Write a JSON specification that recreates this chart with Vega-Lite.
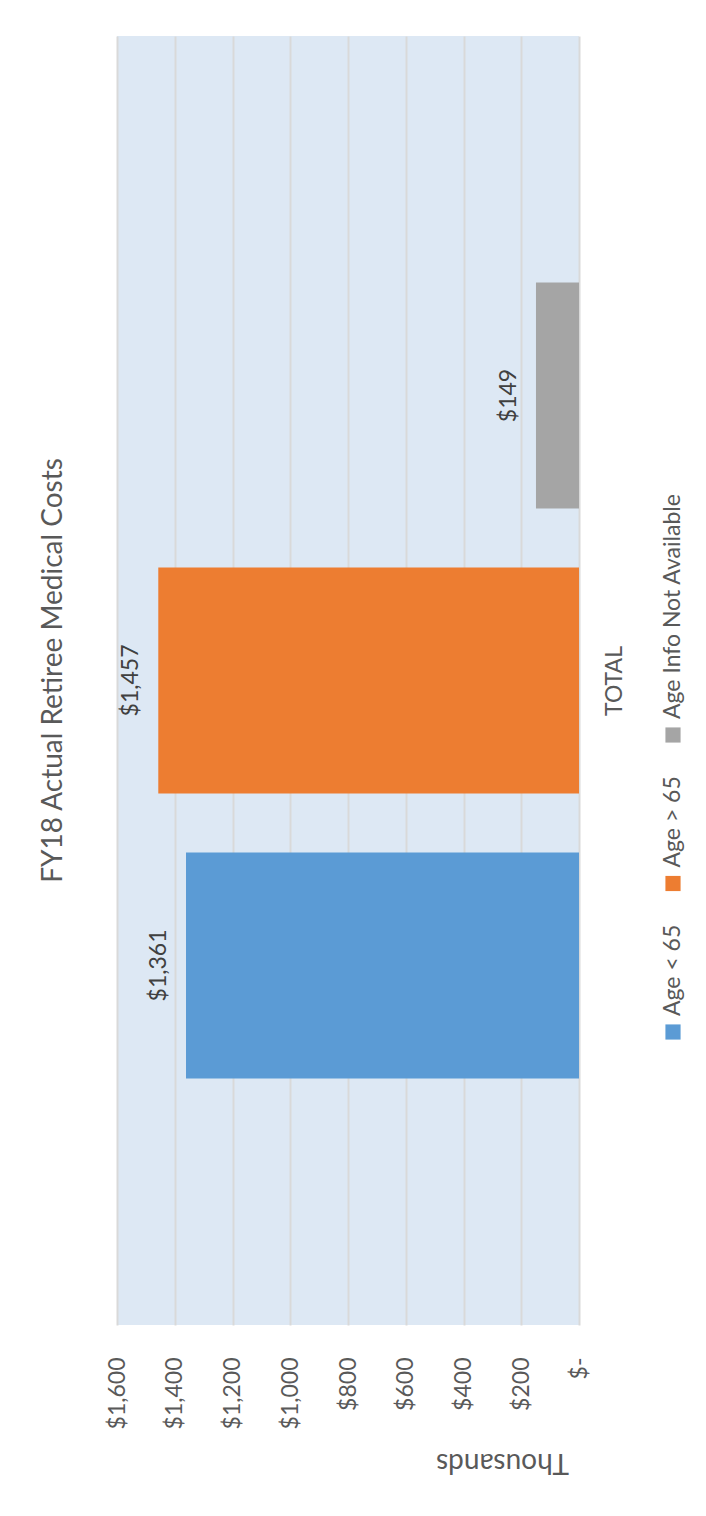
{
  "$schema": "https://vega.github.io/schema/vega-lite/v6.json",
  "background": "white",
  "padding": {"left": 39, "top": 36, "right": 0, "bottom": 50},
  "datasets": {
    "costs": [
      {"group": "TOTAL", "series": "Age < 65", "value": 1361},
      {"group": "TOTAL", "series": "Age > 65", "value": 1457},
      {"group": "TOTAL", "series": "Age Info Not Available", "value": 149}
    ]
  },
  "config": {
    "font": "Lato",
    "view": {"stroke": null},
    "text": {"font": "Lato", "color": "#595959"}
  },
  "spacing": 32,
  "hconcat": [
    {
      "width": 462,
      "height": 1289,
      "view": {"fill": "#dde8f4", "stroke": null},
      "title": {
        "text": "FY18 Actual Retiree Medical Costs",
        "orient": "left",
        "anchor": "middle",
        "frame": "group",
        "angle": 270,
        "baseline": "bottom",
        "offset": 10,
        "dx": 10,
        "font": "Lato",
        "fontSize": 28,
        "fontWeight": "normal",
        "color": "#595959"
      },
      "data": {"name": "costs"},
      "encoding": {
        "y": {
          "field": "series",
          "type": "nominal",
          "sort": ["Age Info Not Available", "Age > 65", "Age < 65"],
          "scale": {"paddingInner": 0.207, "paddingOuter": 0.865},
          "axis": {
            "orient": "right",
            "title": "TOTAL",
            "labels": false,
            "ticks": false,
            "domain": false,
            "grid": false,
            "titleAngle": 270,
            "titleBaseline": "middle",
            "titleAlign": "center",
            "titlePadding": 35,
            "titleFont": "Lato",
            "titleFontSize": 23,
            "titleFontWeight": "normal",
            "titleColor": "#595959"
          }
        },
        "x": {
          "field": "value",
          "type": "quantitative",
          "scale": {"domain": [0, 1600], "reverse": true, "nice": false, "zero": true},
          "axis": {
            "orient": "bottom",
            "values": [0, 200, 400, 600, 800, 1000, 1200, 1400, 1600],
            "labelExpr": "datum.value == 0 ? '$-' : '$' + format(datum.value, ',')",
            "labelAngle": 270,
            "labelAlign": "right",
            "labelBaseline": "middle",
            "labelFont": "Lato",
            "labelFontSize": 23,
            "labelColor": "#595959",
            "labelPadding": 32,
            "ticks": false,
            "tickSize": 0,
            "domain": false,
            "grid": true,
            "gridColor": "#d9d9d9",
            "gridWidth": 2,
            "title": "Thousands",
            "titleAngle": 180,
            "titleAlign": "center",
            "titleBaseline": "middle",
            "titleX": 385,
            "titleY": 136,
            "titleFont": "Lato",
            "titleFontSize": 28,
            "titleFontWeight": "normal",
            "titleColor": "#595959"
          }
        }
      },
      "layer": [
        {
          "mark": {"type": "bar"},
          "encoding": {
            "color": {
              "field": "series",
              "type": "nominal",
              "scale": {
                "domain": ["Age < 65", "Age > 65", "Age Info Not Available"],
                "range": ["#5b9bd5", "#ed7d31", "#a5a5a5"]
              },
              "legend": null
            }
          }
        },
        {
          "mark": {
            "type": "text",
            "angle": 270,
            "align": "center",
            "baseline": "bottom",
            "dy": -15,
            "font": "Lato",
            "fontSize": 23,
            "color": "#404040"
          },
          "encoding": {
            "text": {"field": "value", "type": "quantitative", "format": "$,"}
          }
        }
      ]
    },
    {
      "width": 30,
      "height": 1289,
      "data": {"name": "costs"},
      "encoding": {
        "y": {
          "field": "series",
          "type": "nominal",
          "sort": ["Age Info Not Available", "Age > 65", "Age < 65"],
          "scale": {"type": "point", "range": [699, 996], "padding": 0},
          "axis": null
        }
      },
      "layer": [
        {
          "mark": {"type": "square", "size": 230, "opacity": 1, "filled": true},
          "encoding": {
            "color": {
              "field": "series",
              "type": "nominal",
              "scale": {
                "domain": ["Age < 65", "Age > 65", "Age Info Not Available"],
                "range": ["#5b9bd5", "#ed7d31", "#a5a5a5"]
              },
              "legend": null
            }
          }
        },
        {
          "mark": {
            "type": "text",
            "angle": 270,
            "align": "left",
            "baseline": "middle",
            "dx": 16,
            "font": "Lato",
            "fontSize": 23,
            "color": "#595959"
          },
          "encoding": {
            "text": {"field": "series", "type": "nominal"}
          }
        }
      ]
    }
  ]
}
